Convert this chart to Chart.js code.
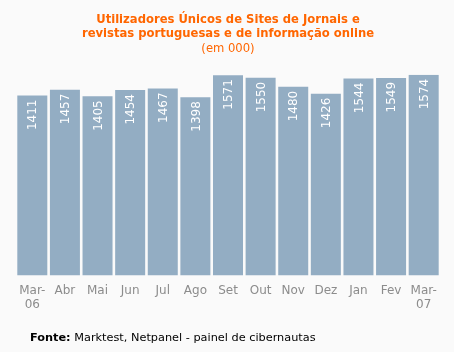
<!DOCTYPE html>
<html>
<head>
<meta charset="utf-8">
<script src="https://cdn.jsdelivr.net/npm/chart.js@4"></script>
<style>
  body { margin: 0; background: #fafafa; }
  #wrap { position: relative; width: 454px; height: 352px; }
  #fonte { position: absolute; left: 30px; top: 331px; font: 11.3px "DejaVu Sans", sans-serif; color: #000; }
</style>
</head>
<body>
<div id="wrap">
  <canvas id="myChart" width="454" height="352"></canvas>
  <div id="fonte"><b>Fonte:</b> Marktest, Netpanel - painel de cibernautas</div>
</div>
<script>
// meses (Mar-06 a Mar-07)
const meses = [['Mar-', '06'], 'Abr', 'Mai', 'Jun', 'Jul', 'Ago', 'Set', 'Out', 'Nov', 'Dez', 'Jan', 'Fev', ['Mar-', '07']];
// utilizadores únicos (em milhares)
const utilizadores = [1411, 1457, 1405, 1454, 1467, 1398, 1571, 1550, 1480, 1426, 1544, 1549, 1574];

/* etiquetas brancas na vertical dentro das barras */
const etiquetas = {
  id: 'etiquetas',
  afterDatasetsDraw(chart) {
    const ctx = chart.ctx;
    const meta = chart.getDatasetMeta(0);
    ctx.save();
    ctx.fillStyle = '#ffffff';
    ctx.font = '12px "DejaVu Sans", sans-serif';
    ctx.textAlign = 'right';
    ctx.textBaseline = 'middle';
    meta.data.forEach((bar, i) => {
      ctx.save();
      ctx.translate(bar.x + 1, bar.y + 4);
      ctx.rotate(-Math.PI / 2);
      ctx.fillText(String(utilizadores[i]), 0, 0);
      ctx.restore();
    });
    ctx.restore();
  }
};

const ctx = document.getElementById('myChart');

new Chart(ctx, {
  type: 'bar',
  data: {
    labels: meses,
    datasets: [{
      data: utilizadores,
      backgroundColor: '#93adc3',
      borderWidth: 0,
      barPercentage: 0.92,
      categoryPercentage: 1
    }]
  },
  options: {
    responsive: false,
    animation: false,
    layout: {
      padding: { left: 16, right: 14, top: 0, bottom: 40 }
    },
    plugins: {
      legend: { display: false },
      tooltip: { enabled: false },
      title: {
        display: true,
        text: ['Utilizadores Únicos de Sites de Jornais e', 'revistas portuguesas e de informação online'],
        color: '#ff6600',
        font: { family: 'DejaVu Sans', size: 11.6, weight: 'bold', lineHeight: 1.2 },
        padding: { top: 13, bottom: 1 }
      },
      subtitle: {
        display: true,
        text: '(em 000)',
        color: '#ff6600',
        font: { family: 'DejaVu Sans', size: 11.6, lineHeight: 1.2 },
        padding: { top: 0, bottom: 19 }
      }
    },
    scales: {
      x: {
        grid: { display: false },
        border: { display: false },
        ticks: {
          color: '#8c8c8c',
          padding: 1,
          maxRotation: 0,
          autoSkip: false,
          font: { family: 'DejaVu Sans', size: 12, lineHeight: 1.1 }
        }
      },
      y: {
        display: false,
        min: 0,
        max: 1574
      }
    }
  },
  plugins: [etiquetas]
});
</script>
</body>
</html>
